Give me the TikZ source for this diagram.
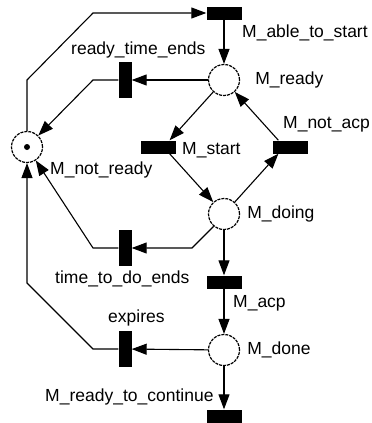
\documentclass[tikz,border=0pt]{standalone}
\usepackage{fontspec}
\setmainfont{Liberation Sans}
\usepackage{tikz}
\usetikzlibrary{positioning, arrows.meta}
\tikzset{
    place/.style={circle, draw=black, line width=1.2pt, dash pattern=on 3pt off 1pt, fill=white, minimum size=31pt, inner sep=0pt},
    token/.style={circle, fill=black, minimum size=6pt, inner sep=0pt},
    transH/.style={rectangle, fill=black, minimum width=35pt, minimum height=13pt, inner sep=0pt},
    transV/.style={rectangle, fill=black, minimum width=13pt, minimum height=36pt, inner sep=0pt},
    lbl/.style={font=\fontsize{17.5}{20}\selectfont, text=black, inner sep=0pt, anchor=west},
    flow/.style={-{Triangle[length=15pt, width=11pt]}, line width=1.1pt}
}

\begin{document}
\begin{tikzpicture}[x=1pt, y=-1pt]
        \useasboundingbox (0,0) rectangle (372,423);

        % Places
        \node[place] (MReady) at (224,80) {};
        \node[place] (MNotReady) at (27,147) {};
        \node[token] (Tok) at (MNotReady) {};
        \node[place] (MDoing) at (224,214) {};
        \node[place] (MDone) at (224,350) {};

        % Transitions
        \node[transH] (MAbleToStart) at (224,13) {};
        \node[transV] (ReadyTimeEnds) at (125,80) {};
        \node[transH] (MStart) at (158,147) {};
        \node[transH] (MNotAcp) at (290,147) {};
        \node[transV] (TimeToDoEnds) at (125,248) {};
        \node[transH] (MAcp) at (224,282) {};
        \node[transV] (Expires) at (125,349) {};
        \node[transH] (MReadyToContinue) at (224,416) {};

        % Labels
        \node[lbl] at (242,33) {M\_able\_to\_start};
        \node[lbl] at (71,50) {ready\_time\_ends};
        \node[lbl, right=15pt of MReady] {M\_ready};
        \node[lbl] at (283,124) {M\_not\_acp};
        \node[lbl] at (182,150) {M\_start};
        \node[lbl] at (50,170) {M\_not\_ready};
        \node[lbl, right=7pt of MDoing] {M\_doing};
        \node[lbl] at (55,279) {time\_to\_do\_ends};
        \node[lbl] at (233,303) {M\_acp};
        \node[lbl] at (108,318) {expires};
        \node[lbl, right=7pt of MDone] {M\_done};
        \node[lbl] at (45,397) {M\_ready\_to\_continue};

        % Arcs
        \draw[flow] (MNotReady.north) -- (27,80) -- (93,13) -- (MAbleToStart.west);
        \draw[flow] (MAbleToStart) -- (MReady);
        \draw[flow] (MReady) -- (ReadyTimeEnds);
        \draw[flow] (ReadyTimeEnds.west) -- (93,80) -- (MNotReady);
        \draw[flow] (MReady) -- (MStart.30);
        \draw[flow] (MStart.-30) -- (MDoing);
        \draw[flow] (MDoing) -- (MNotAcp.-150);
        \draw[flow] (MNotAcp.150) -- (MReady);
        \draw[flow] (MDoing.230) -- (192,248) -- (TimeToDoEnds.east);
        \draw[flow] (TimeToDoEnds.west) -- (93,248) -- (MNotReady);
        \draw[flow] (MDoing) -- (MAcp);
        \draw[flow] (MAcp) -- (MDone);
        \draw[flow] (MDone) -- (Expires);
        \draw[flow] (Expires.west) -- (93,349) -- (27,283) -- (MNotReady.south);
        \draw[flow] (MDone) -- (MReadyToContinue);
    \end{tikzpicture}
\end{document}
